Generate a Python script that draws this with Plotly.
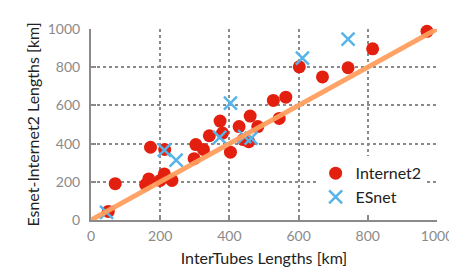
import plotly.graph_objects as go

# Internet2: InterTubes length (x) vs Internet2 length (y), km
i2_x = [50, 70, 158, 167, 172, 200, 212, 213, 234, 298, 303, 325, 342, 373, 380,
        403, 428, 440, 456, 460, 482, 527, 544, 563, 602, 669, 743, 814, 971]
i2_y = [45, 190, 185, 215, 381, 207, 241, 369, 207, 321, 395, 369, 441, 518, 455,
        355, 489, 421, 410, 544, 489, 626, 532, 643, 802, 749, 797, 896, 988]

# ESnet
es_x = [45, 212, 246, 372, 403, 444, 463, 611, 743]
es_y = [40, 366, 314, 432, 612, 437, 429, 848, 947]

# reference line y = x
ref_x = [0, 1000]
ref_y = [0, 1000]

tick_vals = [0, 200, 400, 600, 800, 1000]

font_family = "Lato, 'Open Sans', sans-serif"

fig = go.Figure()
fig.add_trace(go.Scatter(
    x=i2_x, y=i2_y, mode="markers", name="Internet2",
    marker=dict(color="#E3200F", size=13, line=dict(width=0)),
    cliponaxis=False,
))
fig.add_trace(go.Scatter(
    x=es_x, y=es_y, mode="markers", name="ESnet",
    marker=dict(color="#56B4E9", size=13, symbol="x-thin",
                line=dict(width=2.5, color="#56B4E9")),
    cliponaxis=False,
))
fig.add_trace(go.Scatter(
    x=ref_x, y=ref_y, mode="lines", showlegend=False,
    line=dict(color="#FF9F5E", width=5), opacity=0.95,
    cliponaxis=False,
))

axis_common = dict(
    range=[0, 1000], tickvals=tick_vals,
    showgrid=True, gridcolor="#8a8a8a", griddash="dot", gridwidth=1.5,
    showline=True, linecolor="#8a8a8a", linewidth=2,
    ticks="inside", ticklen=5, tickwidth=2, tickcolor="#8a8a8a",
    tickfont=dict(family=font_family, size=14, color="#8a8a8a"),
    zeroline=False, mirror=False,
)

fig.update_layout(
    width=457, height=274,
    margin=dict(l=83, r=25, t=17, b=62),
    plot_bgcolor="white", paper_bgcolor="white",
    font=dict(family=font_family, color="#222222"),
    xaxis=dict(**axis_common, ticklabelstandoff=2,
               title=dict(text="InterTubes Lengths [km]",
                          font=dict(family=font_family, size=16, color="#222222"),
                          standoff=10)),
    yaxis=dict(**axis_common, ticklabelstandoff=6,
               title=dict(text="Esnet-Internet2 Lengths [km]",
                          font=dict(family=font_family, size=16, color="#222222"),
                          standoff=4)),
    legend=dict(x=0.97, y=0.03, xanchor="right", yanchor="bottom",
                bgcolor="white", font=dict(family=font_family, size=16, color="#222222"),
                itemwidth=30, tracegroupgap=0),
    showlegend=True,
)

fig.write_html("out.html")
